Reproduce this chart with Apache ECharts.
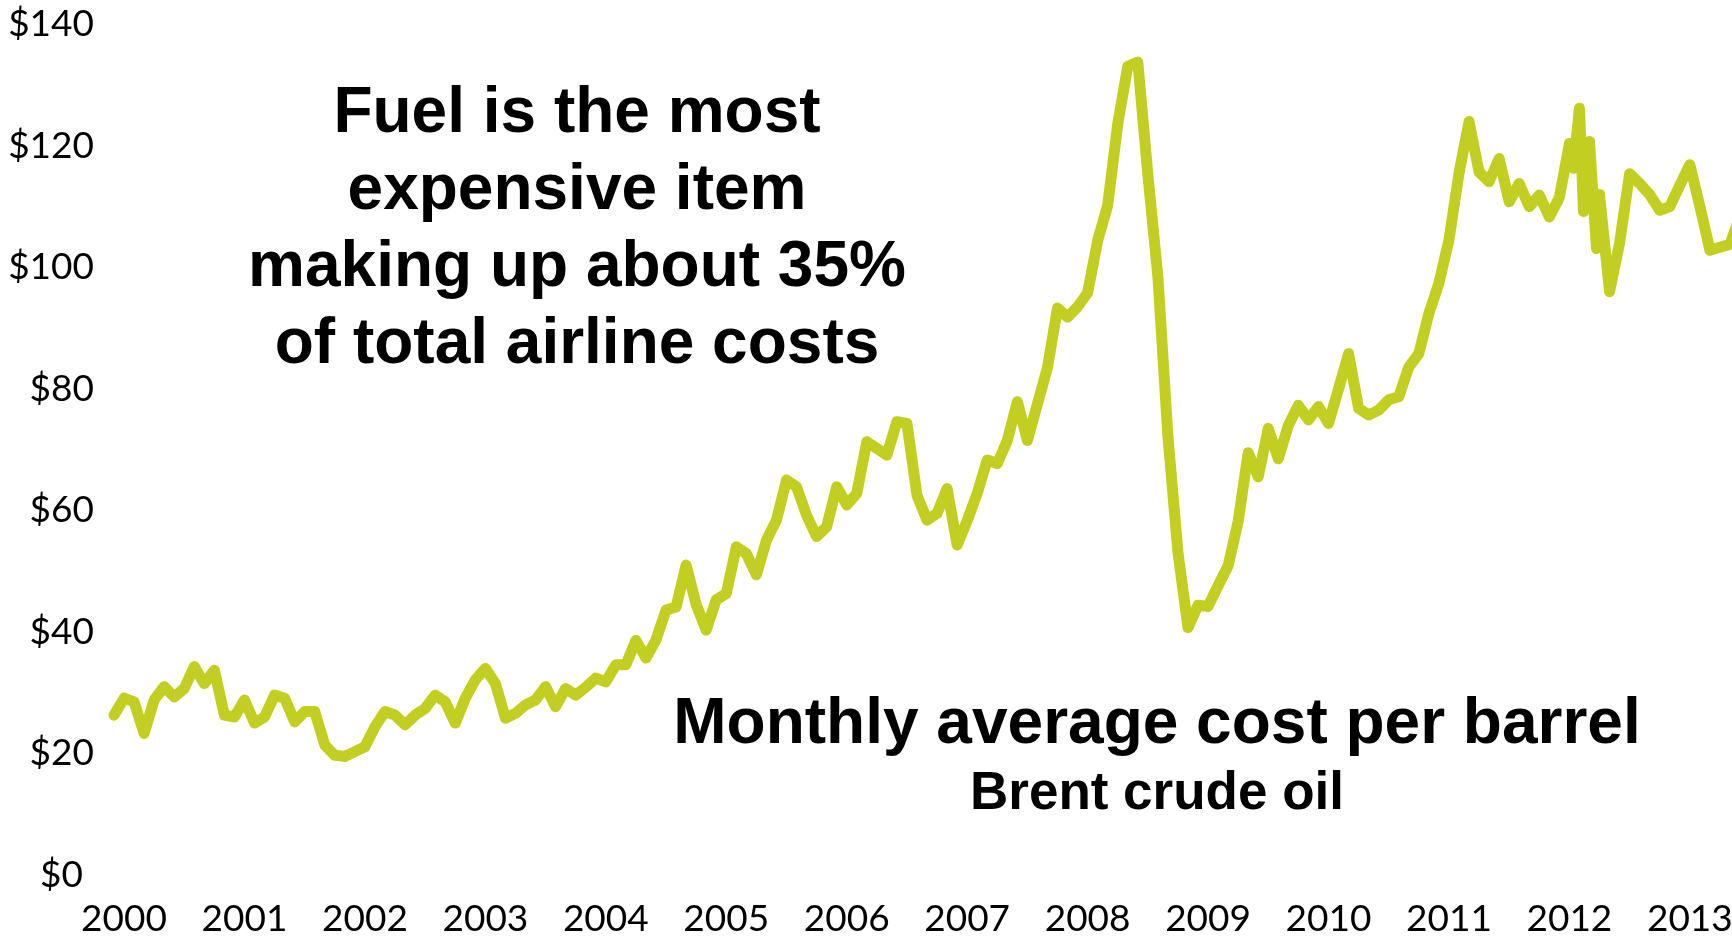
<!DOCTYPE html>
<html><head><meta charset="utf-8">
<script src="https://cdn.jsdelivr.net/npm/echarts@6/dist/echarts.min.js"></script>
<style>html,body{margin:0;padding:0;background:#fff;overflow:hidden}#c{width:1732px;height:937px}</style>
</head><body><div id="c"></div>
<script>
// ---- data ----
const yearLabels = ['2000','2001','2002','2003','2004','2005','2006','2007','2008','2009','2010','2011','2012','2013'];
const yTickValues = [0, 20, 40, 60, 80, 100, 120, 140];

const brent2000 = [26.3, 29.1, 28.5, 23.3, 28.8, 31.0, 29.3, 30.7, 34.3, 31.5, 33.7, 26.3];
const brent2001 = [26.0, 28.8, 25.0, 26.0, 29.6, 29.1, 25.2, 26.9, 26.9, 21.4, 19.7, 19.5];
const brent2002 = [20.3, 21.1, 24.4, 26.9, 26.3, 24.7, 26.3, 27.4, 29.6, 28.5, 25.0, 29.1];
const brent2003 = [32.1, 34.0, 31.5, 25.8, 26.6, 28.0, 28.8, 31.0, 27.7, 30.7, 29.6, 30.9];
const brent2004 = [32.4, 31.8, 34.6, 34.6, 38.6, 35.7, 38.7, 43.6, 44.1, 51.0, 44.5, 40.3];
const brent2005 = [45.3, 46.3, 54.0, 52.9, 49.4, 55.1, 58.4, 65.0, 63.9, 59.2, 55.7, 57.3];
const brent2006 = [63.9, 60.9, 62.8, 71.3, 70.2, 69.1, 74.6, 74.3, 62.5, 58.4, 59.5, 63.6];
const brent2007 = [54.3, 58.3, 62.8, 68.3, 67.7, 71.5, 77.9, 71.5, 77.5, 83.5, 93.3, 91.8];
const brent2008 = [93.5, 95.8, 104.4, 110.2, 123.6, 133.1, 133.8, 115.3, 98.5, 72.2, 53.1, 40.7];
const brent2009 = [44.4, 44.2, 47.6, 50.9, 58.2, 69.5, 65.5, 73.5, 68.5, 74.0, 77.3, 74.9];
const brent2010 = [77.1, 74.3, 80.0, 85.8, 76.8, 75.7, 76.5, 78.2, 78.7, 83.6, 85.8, 92.4];
const brent2011 = [97.4, 104.5, 115.5, 124.0, 115.7, 114.1, 117.9, 110.8, 113.8, 110.0, 111.9, 108.3];
const brent2012 = [111.5, 120.4, 126.2, 120.7, 112.0, 96.0, 104.0, 115.4, 113.8, 112.0, 109.4, 110.0];
const brent2013 = [113.5, 116.9, 110.0, 102.8, 103.3, 103.8, 108.5];
// extra mid-month readings visible in 2012
const brent2012Extra = [['2012-02-13', 116.3], ['2012-03-13', 109.2], ['2012-04-22', 103.1]];

const byYear = [brent2000, brent2001, brent2002, brent2003, brent2004, brent2005, brent2006,
                brent2007, brent2008, brent2009, brent2010, brent2011, brent2012, brent2013];

// ---- build series (x = months since Jan 2000) ----
const seriesData = [];
byYear.forEach((arr, yi) => arr.forEach((v, m) => seriesData.push([yi * 12 + m, v])));
brent2012Extra.forEach(([d, v]) => {
  const [y, m, dd] = d.split('-').map(Number);
  seriesData.push([(y - 2000) * 12 + (m - 1) + (dd - 1) / 30, v]);
});
seriesData.sort((a, b) => a[0] - b[0]);

const labelFont = 'Lato';
const titleFont = 'bold 64px "Liberation Sans"';
const chart = echarts.init(document.getElementById('c'), null, {renderer: 'canvas'});
chart.setOption({
  animation: false,
  backgroundColor: '#ffffff',
  grid: {left: 114, right: 0, top: 24.3, bottom: 62, containLabel: false, outerBoundsMode: 'none'},
  xAxis: {
    type: 'value', min: 0, max: 161.2,
    splitLine: {show: false}, axisLine: {show: false}, axisTick: {show: false},
    axisLabel: {
      customValues: yearLabels.map((_, i) => i * 12 + 1),
      formatter: v => yearLabels[Math.round((v - 1) / 12)],
      color: '#000', fontFamily: labelFont, fontSize: 37, margin: 26,
      showMinLabel: true, showMaxLabel: true, hideOverlap: false
    }
  },
  yAxis: {
    type: 'value', min: 0, max: 140, interval: 20,
    splitLine: {show: false}, axisLine: {show: false}, axisTick: {show: false},
    axisLabel: {
      formatter: v => v === 0 ? '{z|$0}' : '$' + v,
      rich: {z: {fontFamily: labelFont, fontSize: 37, color: '#000', padding: [0, 11, 0, 0]}},
      color: '#000', fontFamily: labelFont, fontSize: 37, margin: 20, align: 'right'
    }
  },
  series: [{
    type: 'line', data: seriesData, showSymbol: false, clip: true,
    lineStyle: {color: '#C2CF22', width: 11, cap: 'round', join: 'round'}
  }],
  graphic: [
    {type: 'text', x: 577, y: 114.5, style: {text: 'Fuel is the most', font: titleFont, fill: '#000', align: 'center', verticalAlign: 'middle'}},
    {type: 'text', x: 577, y: 191.5, style: {text: 'expensive item', font: titleFont, fill: '#000', align: 'center', verticalAlign: 'middle'}},
    {type: 'text', x: 577, y: 268.5, style: {text: 'making up about 35%', font: titleFont, fill: '#000', align: 'center', verticalAlign: 'middle'}},
    {type: 'text', x: 577, y: 345.5, style: {text: 'of total airline costs', font: titleFont, fill: '#000', align: 'center', verticalAlign: 'middle'}},
    {type: 'text', x: 1157, y: 725, style: {text: 'Monthly average cost per barrel', font: titleFont, fill: '#000', align: 'center', verticalAlign: 'middle'}},
    {type: 'text', x: 1157, y: 794, style: {text: 'Brent crude oil', font: 'bold 53px "Liberation Sans"', fill: '#000', align: 'center', verticalAlign: 'middle'}}
  ]
});
</script></body></html>
